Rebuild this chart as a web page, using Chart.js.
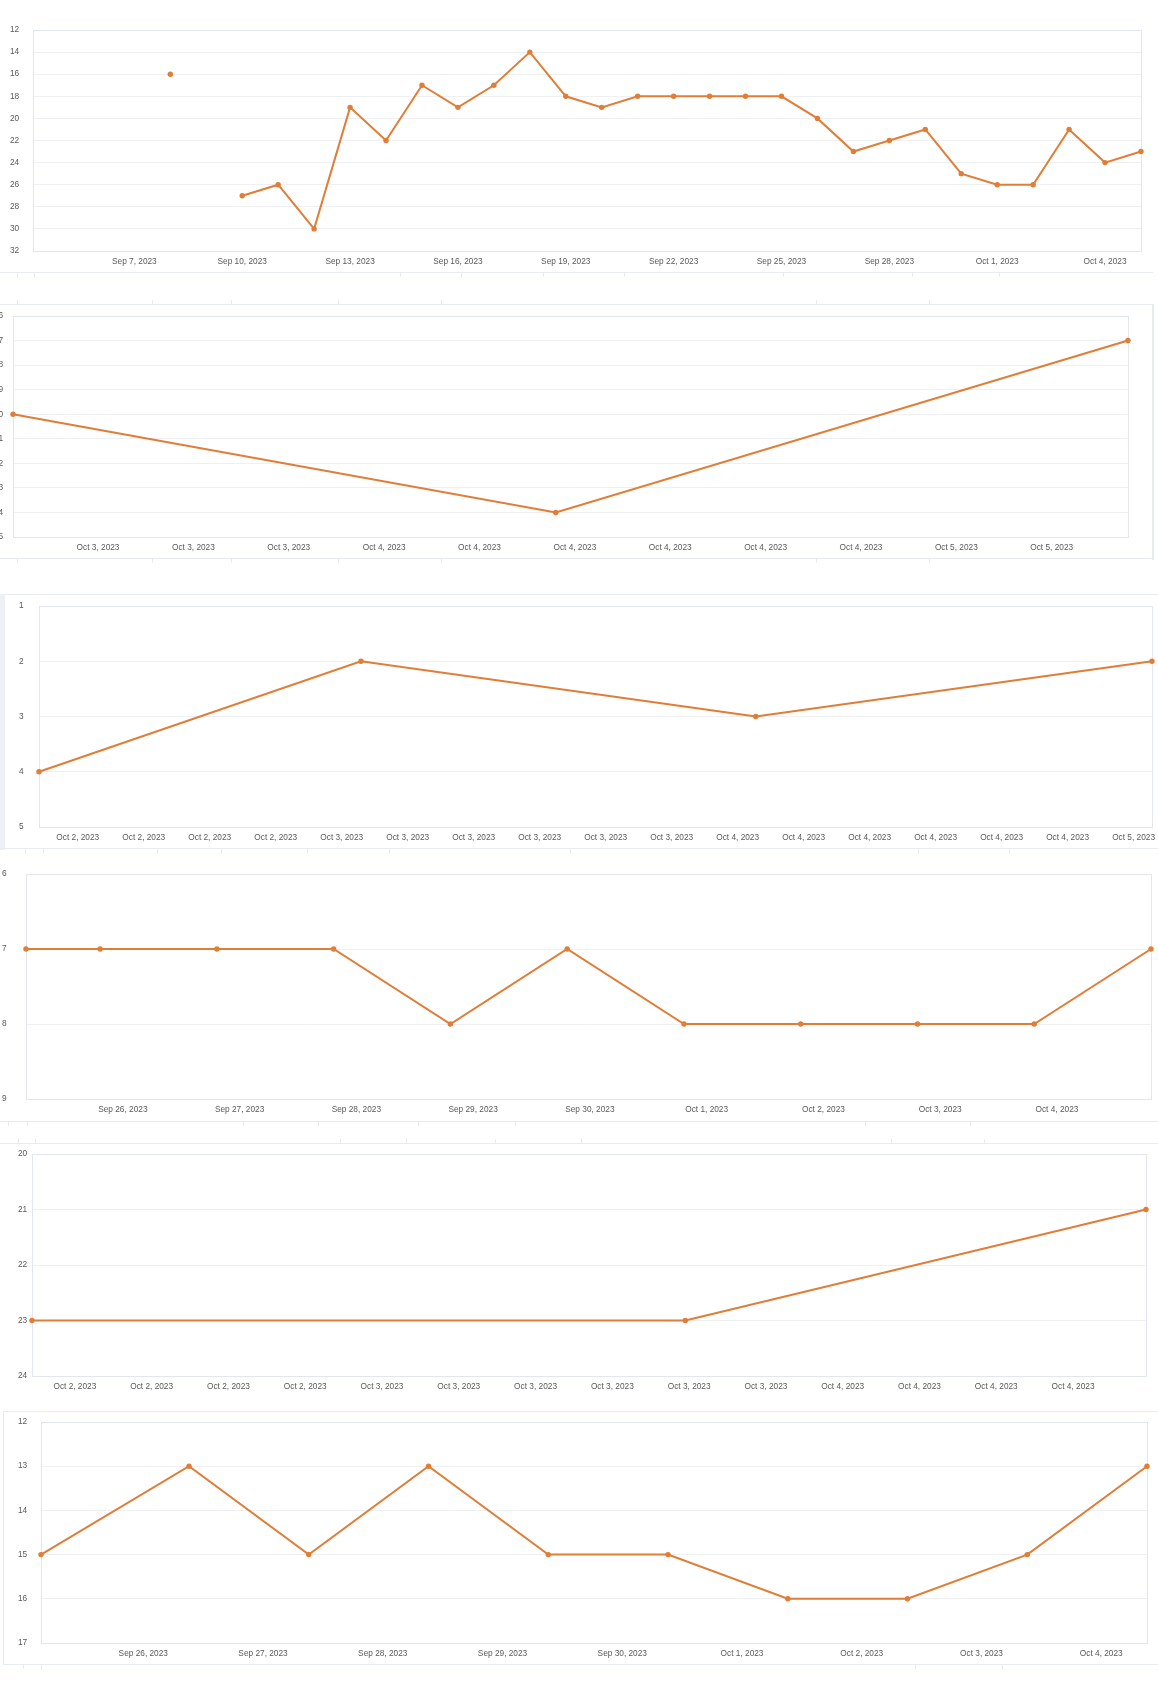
<!DOCTYPE html>
<html>
<head>
<meta charset="utf-8">
<script src="https://cdn.jsdelivr.net/npm/chart.js@4.4.0/dist/chart.umd.min.js"></script>
<style>
    html, body { margin: 0; padding: 0; background: #fff; }
    body { position: relative; width: 1158px; height: 1696px; overflow: hidden; }
    canvas { position: absolute; }
    .hl { position: absolute; height: 1px; background: #e8ebf2; }
    .vl { position: absolute; width: 1px; background: #e8ebf2; }
</style>
</head>
<body>
<div id="deco"></div>
<canvas id="c1"></canvas>
<canvas id="c2"></canvas>
<canvas id="c3"></canvas>
<canvas id="c4"></canvas>
<canvas id="c5"></canvas>
<canvas id="c6"></canvas>
<script>
// ---- chart 1 : daily, Sep 8 .. Oct 5 (Sep 9 missing)
const c1Times = [
    "2023-09-08T00:00", "2023-09-09T00:00", "2023-09-10T00:00", "2023-09-11T00:00",
    "2023-09-12T00:00", "2023-09-13T00:00", "2023-09-14T00:00", "2023-09-15T00:00",
    "2023-09-16T00:00", "2023-09-17T00:00", "2023-09-18T00:00", "2023-09-19T00:00",
    "2023-09-20T00:00", "2023-09-21T00:00", "2023-09-22T00:00", "2023-09-23T00:00",
    "2023-09-24T00:00", "2023-09-25T00:00", "2023-09-26T00:00", "2023-09-27T00:00",
    "2023-09-28T00:00", "2023-09-29T00:00", "2023-09-30T00:00", "2023-10-01T00:00",
    "2023-10-02T00:00", "2023-10-03T00:00", "2023-10-04T00:00", "2023-10-05T00:00"
];
const c1Values = [16, null, 27, 26, 30, 19, 22, 17, 19, 17, 14, 18, 19, 18, 18, 18,
    18, 18, 20, 23, 22, 21, 25, 26, 26, 21, 24, 23];
const c1TickTimes = ["2023-09-07T00:00", "2023-09-10T00:00", "2023-09-13T00:00", "2023-09-16T00:00",
    "2023-09-19T00:00", "2023-09-22T00:00", "2023-09-25T00:00", "2023-09-28T00:00",
    "2023-10-01T00:00", "2023-10-04T00:00"];
const c1TickLabels = ["Sep 7, 2023", "Sep 10, 2023", "Sep 13, 2023", "Sep 16, 2023", "Sep 19, 2023",
    "Sep 22, 2023", "Sep 25, 2023", "Sep 28, 2023", "Oct 1, 2023", "Oct 4, 2023"];
const c1Range = ["2023-09-04T04:20", "2023-10-05T00:00"];
const c1Y = [12, 32, 2];

// ---- chart 2
const c2Times = ["2023-10-03T08:26", "2023-10-04T07:12", "2023-10-05T07:12"];
const c2Values = [20, 24, 17];
const c2TickTimes = ["2023-10-03T12:00", "2023-10-03T16:00", "2023-10-03T20:00",
    "2023-10-04T00:00", "2023-10-04T04:00", "2023-10-04T08:00", "2023-10-04T12:00",
    "2023-10-04T16:00", "2023-10-04T20:00", "2023-10-05T00:00", "2023-10-05T04:00"];
const c2TickLabels = ["Oct 3, 2023", "Oct 3, 2023", "Oct 3, 2023", "Oct 4, 2023", "Oct 4, 2023",
    "Oct 4, 2023", "Oct 4, 2023", "Oct 4, 2023", "Oct 4, 2023", "Oct 5, 2023", "Oct 5, 2023"];
const c2Range = ["2023-10-03T08:26", "2023-10-05T07:12"];
const c2Y = [16, 25, 1];

// ---- chart 3
const c3Times = ["2023-10-02T05:39", "2023-10-03T01:10", "2023-10-04T01:06", "2023-10-05T01:07"];
const c3Values = [4, 2, 3, 2];
const c3TickTimes = ["2023-10-02T08:00", "2023-10-02T12:00", "2023-10-02T16:00", "2023-10-02T20:00",
    "2023-10-03T00:00", "2023-10-03T04:00", "2023-10-03T08:00", "2023-10-03T12:00",
    "2023-10-03T16:00", "2023-10-03T20:00", "2023-10-04T00:00", "2023-10-04T04:00",
    "2023-10-04T08:00", "2023-10-04T12:00", "2023-10-04T16:00", "2023-10-04T20:00",
    "2023-10-05T00:00"];
const c3TickLabels = ["Oct 2, 2023", "Oct 2, 2023", "Oct 2, 2023", "Oct 2, 2023",
    "Oct 3, 2023", "Oct 3, 2023", "Oct 3, 2023", "Oct 3, 2023", "Oct 3, 2023", "Oct 3, 2023",
    "Oct 4, 2023", "Oct 4, 2023", "Oct 4, 2023", "Oct 4, 2023", "Oct 4, 2023", "Oct 4, 2023",
    "Oct 5, 2023"];
const c3Range = ["2023-10-02T05:39", "2023-10-05T01:07"];
const c3Y = [1, 5, 1];

// ---- chart 4
const c4Times = ["2023-09-25T04:06", "2023-09-25T19:20", "2023-09-26T19:20", "2023-09-27T19:20",
    "2023-09-28T19:20", "2023-09-29T19:20", "2023-09-30T19:20", "2023-10-01T19:20",
    "2023-10-02T19:20", "2023-10-03T19:20", "2023-10-04T19:20"];
const c4Values = [7, 7, 7, 7, 8, 7, 8, 8, 8, 8, 7];
const c4TickTimes = ["2023-09-26T00:00", "2023-09-27T00:00", "2023-09-28T00:00", "2023-09-29T00:00",
    "2023-09-30T00:00", "2023-10-01T00:00", "2023-10-02T00:00", "2023-10-03T00:00",
    "2023-10-04T00:00"];
const c4TickLabels = ["Sep 26, 2023", "Sep 27, 2023", "Sep 28, 2023", "Sep 29, 2023", "Sep 30, 2023",
    "Oct 1, 2023", "Oct 2, 2023", "Oct 3, 2023", "Oct 4, 2023"];
const c4Range = ["2023-09-25T04:06", "2023-10-04T19:20"];
const c4Y = [6, 9, 1];

// ---- chart 5
const c5Times = ["2023-10-02T05:46", "2023-10-03T15:48", "2023-10-04T15:48"];
const c5Values = [23, 23, 21];
const c5TickTimes = ["2023-10-02T08:00", "2023-10-02T12:00", "2023-10-02T16:00", "2023-10-02T20:00",
    "2023-10-03T00:00", "2023-10-03T04:00", "2023-10-03T08:00", "2023-10-03T12:00",
    "2023-10-03T16:00", "2023-10-03T20:00", "2023-10-04T00:00", "2023-10-04T04:00",
    "2023-10-04T08:00", "2023-10-04T12:00"];
const c5TickLabels = ["Oct 2, 2023", "Oct 2, 2023", "Oct 2, 2023", "Oct 2, 2023",
    "Oct 3, 2023", "Oct 3, 2023", "Oct 3, 2023", "Oct 3, 2023", "Oct 3, 2023", "Oct 3, 2023",
    "Oct 4, 2023", "Oct 4, 2023", "Oct 4, 2023", "Oct 4, 2023"];
const c5Range = ["2023-10-02T05:46", "2023-10-04T15:48"];
const c5Y = [20, 24, 1];

// ---- chart 6
const c6Times = ["2023-09-25T03:30", "2023-09-26T09:10", "2023-09-27T09:10", "2023-09-28T09:10",
    "2023-09-29T09:10", "2023-09-30T09:10", "2023-10-01T09:10", "2023-10-02T09:10",
    "2023-10-03T09:10", "2023-10-04T09:10"];
const c6Values = [15, 13, 15, 13, 15, 15, 16, 16, 15, 13];
const c6TickTimes = c4TickTimes;
const c6TickLabels = c4TickLabels;
const c6Range = ["2023-09-25T03:30", "2023-10-04T09:10"];
const c6Y = [12, 17, 1];

const PAGE_W = 1158;
const LINE = "#e07d36";
const TEXT = "#595959";

// thin frame round the plot area (top/right/bottom/left)
const frame = {
    id: "frame",
    beforeDatasetsDraw(chart) {
        const a = chart.chartArea;
        const ctx = chart.ctx;
        ctx.save();
        ctx.strokeStyle = "#e3e6ee";
        ctx.lineWidth = 1;
        ctx.strokeRect(Math.round(a.left) + 0.5, Math.round(a.top) + 0.5,
            Math.round(a.right - a.left), Math.round(a.bottom - a.top));
        ctx.restore();
    },
};

const ms = s => new Date(s).getTime();

// labelLeft: where the y labels start; plot: [left, top, right, bottom] of the plot box
function makeChart(id, times, values, tickTimes, tickLabels, range, yCfg, labelLeft, plot) {
    const [pl, pt, pr, pb] = plot;
    const canvas = document.getElementById(id);
    const top = pt - 12;
    const w = PAGE_W - labelLeft;
    const h = pb - top + 22;
    canvas.width = w;
    canvas.height = h;
    canvas.style.left = labelLeft + "px";
    canvas.style.top = top + "px";
    canvas.style.width = w + "px";
    canvas.style.height = h + "px";

    const ticks = tickTimes.map(ms);

    return new Chart(canvas.getContext("2d"), {
        type: "line",
        data: {
            datasets: [{
                data: times.map((t, i) => ({ x: ms(t), y: values[i] })),
                borderColor: LINE,
                backgroundColor: LINE,
                borderWidth: 2,
                pointRadius: 2.7,
                pointBorderWidth: 0,
                pointBackgroundColor: LINE,
                tension: 0,
                spanGaps: false,
                clip: false,
            }],
        },
        options: {
            responsive: false,
            animation: false,
            devicePixelRatio: 1,
            layout: { padding: { top: 12, right: PAGE_W - pr, left: 0, bottom: 0 } },
            plugins: { legend: { display: false }, tooltip: { enabled: false } },
            scales: {
                x: {
                    type: "linear",
                    min: ms(range[0]),
                    max: ms(range[1]),
                    afterBuildTicks: s => { s.ticks = ticks.map(v => ({ value: v })); },
                    afterFit: s => { s.height = 22; s.paddingLeft = 0; s.paddingRight = 0; },
                    grid: { display: false, drawTicks: false },
                    border: { display: false },
                    ticks: {
                        autoSkip: false,
                        maxRotation: 0,
                        padding: 6,
                        color: TEXT,
                        font: { size: 8.3 },
                        callback: (v, i) => tickLabels[i],
                    },
                },
                y: {
                    type: "linear",
                    reverse: true,
                    min: yCfg[0],
                    max: yCfg[1],
                    afterFit: s => { s.width = pl - labelLeft; s.paddingTop = 0; s.paddingBottom = 0; },
                    grid: { color: "#eef0f4", drawTicks: false },
                    border: { display: false },
                    ticks: {
                        stepSize: yCfg[2],
                        crossAlign: "far",
                        padding: 0,
                        color: TEXT,
                        font: { size: 8.3 },
                    },
                },
            },
        },
        plugins: [frame],
    });
}

// ---- faint dashboard panel lines between the charts
function deco() {
    const d = document.getElementById("deco");
    const add = (cls, css) => {
        const e = document.createElement("div");
        e.className = cls;
        Object.assign(e.style, css);
        d.appendChild(e);
    };
    const hline = (y, x0, x1) => add("hl", { top: y + "px", left: x0 + "px", width: (x1 - x0) + "px" });
    const ticks = (y, xs) => xs.forEach(x => add("vl", { top: y + "px", left: x + "px", height: "4px" }));

    hline(272, 0, 1153); ticks(273, [17, 34, 400, 461, 543, 624, 783, 912, 999]);
    hline(304, 0, 1153); ticks(300, [17, 152, 231, 338, 441, 816, 929]);
    add("vl", { top: "304px", left: "1152px", height: "256px", width: "2px" });
    hline(558, 0, 1153); ticks(559, [17, 152, 231, 338, 441, 816, 929]);
    hline(594, 0, 1158);
    add("vl", { top: "594px", left: "0px", height: "256px", width: "5px", background: "#eef0f6" });
    hline(848, 0, 1158); ticks(849, [25, 43, 157, 221, 307, 389, 570, 918, 1009]);
    hline(1121, 0, 1158); ticks(1122, [8, 27, 243, 318, 418, 515, 865, 970]);
    hline(1143, 0, 1158); ticks(1139, [18, 35, 340, 406, 495, 581, 891, 984]);
    hline(1411, 3, 1158);
    add("vl", { top: "1411px", left: "3px", height: "253px" });
    hline(1664, 3, 1158); ticks(1665, [23, 41, 915, 1002]);
}

Chart.defaults.font.family = "'Liberation Sans', Arial, sans-serif";
deco();
makeChart("c1", c1Times, c1Values, c1TickTimes, c1TickLabels, c1Range, c1Y, 10, [33, 30, 1141, 251]);
makeChart("c2", c2Times, c2Values, c2TickTimes, c2TickLabels, c2Range, c2Y, -6, [13, 316, 1128, 537]);
makeChart("c3", c3Times, c3Values, c3TickTimes, c3TickLabels, c3Range, c3Y, 19, [39, 606, 1152, 827]);
makeChart("c4", c4Times, c4Values, c4TickTimes, c4TickLabels, c4Range, c4Y, 2, [26, 874, 1151, 1099]);
makeChart("c5", c5Times, c5Values, c5TickTimes, c5TickLabels, c5Range, c5Y, 18, [32, 1154, 1146, 1376]);
makeChart("c6", c6Times, c6Values, c6TickTimes, c6TickLabels, c6Range, c6Y, 18, [41, 1422, 1147, 1643]);
</script>
</body>
</html>
